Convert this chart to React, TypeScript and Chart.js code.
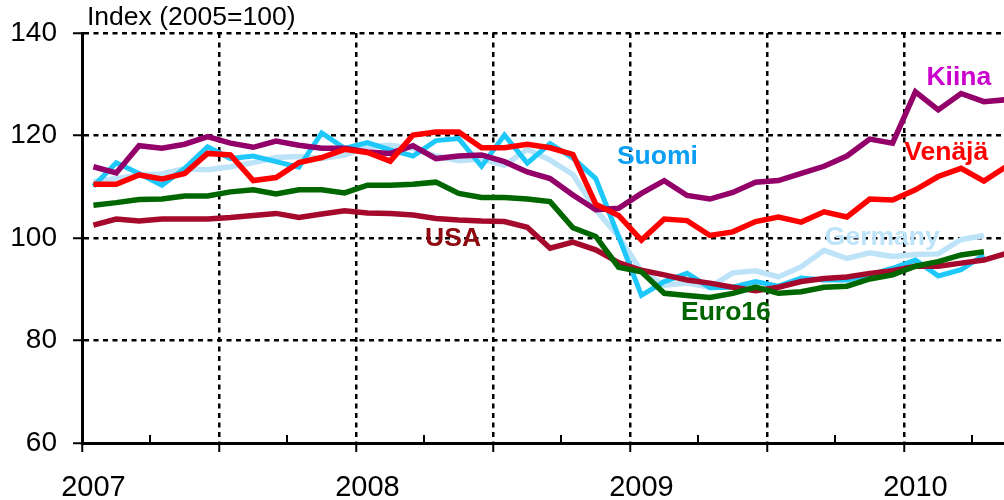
import React, { useEffect, useRef } from 'react';
import { Chart, registerables } from 'chart.js';

Chart.register(...registerables);

const FONT = '"Liberation Sans", Arial, Helvetica, sans-serif';

// Monthly index values, Jan 2007 = index 0
const venaja = [110.5, 110.5, 112.3, 111.5, 112.6, 116.5, 116.2, 111.2, 111.8, 114.7, 115.7, 117.3, 116.7, 115.0, 120.1, 120.7, 120.7, 117.6, 117.6, 118.3, 117.6, 116.3, 106.6, 104.4, 99.6, 103.7, 103.4, 100.5, 101.2, 103.2, 104.1, 103.1, 105.1, 104.1, 107.6, 107.4, 109.4, 112.0, 113.6, 111.1, 114.0];
const kiina = [113.9, 112.7, 118.0, 117.5, 118.3, 119.8, 118.5, 117.7, 118.9, 118.1, 117.5, 117.5, 116.8, 116.5, 118.0, 115.5, 116.0, 116.2, 114.9, 112.9, 111.6, 108.4, 105.5, 105.8, 108.7, 111.2, 108.3, 107.6, 108.9, 110.9, 111.2, 112.6, 114.0, 116.0, 119.3, 118.5, 128.5, 125.0, 128.2, 126.6, 127.0];
const euro16 = [106.4, 106.9, 107.5, 107.6, 108.2, 108.2, 109.0, 109.4, 108.6, 109.4, 109.4, 108.8, 110.3, 110.3, 110.5, 110.9, 108.7, 107.9, 107.9, 107.6, 107.1, 102.0, 100.3, 94.3, 93.4, 89.2, 88.8, 88.4, 89.2, 90.4, 89.2, 89.5, 90.4, 90.6, 92.0, 92.8, 94.5, 95.4, 96.7, 97.3];
const usa = [102.5, 103.7, 103.3, 103.7, 103.7, 103.7, 104.0, 104.4, 104.8, 104.0, 104.7, 105.3, 104.9, 104.8, 104.5, 103.8, 103.5, 103.3, 103.2, 102.1, 98.0, 99.2, 97.7, 95.2, 93.7, 92.8, 91.8, 91.2, 90.4, 89.7, 90.4, 91.5, 92.1, 92.4, 93.1, 93.6, 94.5, 94.5, 95.1, 95.7, 97.0];
const suomi = [110.1, 114.7, 112.6, 110.3, 113.6, 117.8, 115.5, 116.0, 114.9, 113.8, 120.5, 117.5, 118.6, 117.2, 116.0, 119.0, 119.4, 114.0, 120.1, 114.6, 118.4, 115.6, 111.6, 100.3, 88.8, 91.5, 93.1, 90.3, 90.4, 91.5, 90.6, 92.2, 91.8, 91.8, 92.8, 94.1, 95.7, 92.6, 93.8, 96.7];
const germany = [111.0, 111.6, 112.3, 112.5, 113.5, 113.3, 113.9, 114.7, 115.7, 115.9, 115.5, 116.2, 117.8, 118.1, 117.5, 116.0, 115.1, 115.4, 114.2, 117.3, 115.2, 112.4, 105.5, 100.3, 93.5, 90.8, 91.2, 90.4, 93.2, 93.6, 92.4, 94.4, 97.6, 96.0, 97.1, 96.4, 96.8, 96.9, 99.7, 100.5];

const yearLabels = ['2007', '2008', '2009', '2010'];
const quarterTicks = [0, 3, 6, 9, 12, 15, 18, 21, 24, 27, 30, 33, 36, 39];
const axisTitle = 'Index (2005=100)';

// series label text anchored in data space (month, value)
const labelTexts = ['Kiina', 'Venäjä', 'Suomi', 'Germany', 'Euro16', 'USA'];
const labelMonths = [38.4, 37.85, 25.2, 35.05, 28.2, 16.25];
const labelValues = [131.2, 116.6, 115.8, 100.0, 85.4, 99.8];
const labelColors = ['#CC00CC', '#FF0000', '#0A9EF5', '#BDE3F8', '#006400', '#8E0A10'];

const toPoints = (arr: number[]) => arr.map((v, i) => ({ x: i + 0.5, y: v }));

const decorPlugin = {
  id: 'decor',
  afterDraw(chart: any) {
    const { ctx } = chart;
    const x = chart.scales.x;
    const y = chart.scales.y;
    ctx.save();
    // inner minor ticks at quarters
    ctx.strokeStyle = '#000';
    ctx.lineWidth = 2;
    x.ticks.forEach((t: any) => {
      if (t.value % 6 !== 0) {
        const px = Math.round(x.getPixelForValue(t.value));
        ctx.beginPath();
        ctx.moveTo(px, y.bottom);
        ctx.lineTo(px, y.bottom - 8);
        ctx.stroke();
      }
    });
    // axis title
    ctx.fillStyle = '#000';
    ctx.font = `26.5px ${FONT}`;
    ctx.textAlign = 'left';
    ctx.textBaseline = 'middle';
    ctx.fillText(axisTitle, x.left + 5, 18);
    // series labels
    ctx.font = `bold 26.5px ${FONT}`;
    ctx.textAlign = 'center';
    labelTexts.forEach((txt, i) => {
      ctx.fillStyle = labelColors[i];
      ctx.fillText(txt, x.getPixelForValue(labelMonths[i]), y.getPixelForValue(labelValues[i]));
    });
    ctx.restore();
  },
};

export default function App() {
  const canvasRef = useRef<HTMLCanvasElement | null>(null);

  useEffect(() => {
    document.body.style.margin = '0';
    const canvas = canvasRef.current;
    if (!canvas) return;
    const line = (label: string, data: number[], color: string, width: number) => ({
      label,
      data: toPoints(data),
      borderColor: color,
      backgroundColor: color,
      borderWidth: width,
      pointRadius: 0,
      tension: 0,
      fill: false,
    });
    const chart = new Chart(canvas, {
      type: 'line',
      data: {
        datasets: [
          line('Venäjä', venaja, '#FF0000', 5.5),
          line('Kiina', kiina, '#930069', 5.5),
          line('Euro16', euro16, '#006600', 5.5),
          line('USA', usa, '#A50A2D', 5.5),
          line('Suomi', suomi, '#1EC8FA', 5),
          line('Germany', germany, '#BDE3F8', 5.5),
        ],
      },
      options: {
        animation: false,
        responsive: false,
        maintainAspectRatio: false,
        layout: { padding: { top: 33, right: 0, left: 0, bottom: 0 } },
        plugins: { legend: { display: false }, tooltip: { enabled: false }, title: { display: false } },
        scales: {
          x: {
            type: 'linear',
            min: 0,
            max: 40.38,
            afterBuildTicks: (s: any) => {
              s.ticks = quarterTicks.map((v) => ({ value: v }));
            },
            afterFit: (s: any) => {
              s.height = 57;
            },
            ticks: {
              autoSkip: false,
              maxRotation: 0,
              labelOffset: 11.4,
              padding: 19,
              color: '#000',
              font: { size: 29, family: FONT },
              callback: (v: any) => (v % 12 === 0 ? yearLabels[v / 12] : ''),
            },
            grid: {
              color: (c: any) => (c.tick && c.tick.value % 6 === 0 && c.tick.value !== 0 ? '#000' : 'rgba(0,0,0,0)'),
              lineWidth: 2.5,
              drawTicks: true,
              tickLength: 9,
              tickWidth: 2,
              tickColor: (c: any) => (c.tick && c.tick.value % 6 === 0 ? '#000' : 'rgba(0,0,0,0)'),
              tickBorderDash: [],
            },
            border: { display: true, color: '#000', width: 3, dash: [5, 4.5] },
          },
          y: {
            type: 'linear',
            min: 60,
            max: 140,
            afterFit: (s: any) => {
              s.width = 82;
            },
            ticks: {
              stepSize: 20,
              padding: 16,
              color: '#000',
              font: { size: 28, family: FONT },
            },
            grid: {
              color: (c: any) => (c.tick && c.tick.value === 60 ? 'rgba(0,0,0,0)' : '#000'),
              lineWidth: 2.5,
              drawTicks: true,
              tickLength: 9,
              tickWidth: 2,
              tickColor: '#000',
              tickBorderDash: [],
            },
            border: { display: true, color: '#000', width: 3, dash: [5, 4.5] },
          },
        },
      },
      plugins: [decorPlugin],
    } as any);
    return () => chart.destroy();
  }, []);

  return <canvas ref={canvasRef} width={1004} height={500} style={{ display: 'block' }} />;
}
